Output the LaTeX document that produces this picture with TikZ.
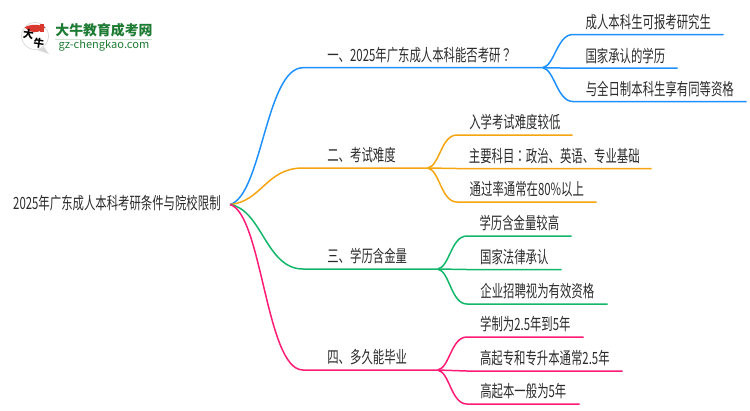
\documentclass[tikz,border=0pt]{standalone}
\usepackage{fontspec}
\usepackage{tikz}
\setmainfont{Noto Sans CJK SC}[FakeStretch=0.675]
\newfontfamily\punctfont{Noto Sans CJK TC}[FakeStretch=0.675]
\newfontfamily\logofont{Noto Sans CJK SC}
\definecolor{mapblue}{HTML}{1E90FF}
\definecolor{maporange}{HTML}{F5A50F}
\definecolor{mapgreen}{HTML}{12B76A}
\definecolor{mappink}{HTML}{FF1A75}
\definecolor{maptext}{HTML}{2B2B2B}
\definecolor{logogreen}{HTML}{1E7B34}
\definecolor{logored}{HTML}{D9382E}
\tikzset{
  mapline/.style={line width=.85pt},
  rootbox/.style={anchor=east, inner xsep=.18cm, inner ysep=0pt, text height=5.7pt, text depth=0pt, text=maptext, font=\fontsize{9.6pt}{10pt}\selectfont},
  itembox/.style={anchor=south west, inner xsep=0pt, inner ysep=.09cm, align=center, text=maptext, font=\fontsize{9.6pt}{10pt}\selectfont, minimum width=#1},
  topicbox/.style={itembox=#1, text width=#1, align=left}
}

\begin{document}
\begin{tikzpicture}[x=.02cm, y=-.02cm]
    \useasboundingbox (0,0) rectangle (750,410);

    % logo
    \fill[gray!30] (44,47) -- (49,54) -- (37,50) -- cycle;
    \draw[gray!30, fill=white] (35,36) circle (13.5);
    \fill[logored] (24.7,27.3) arc[start angle=140, end angle=40, radius=13.5] .. controls (40,24) and (30,24) .. cycle;
    \fill[logored] (39.8,24) rectangle (44.2,32);
    \node[inner sep=0pt, rotate=-8, font=\logofont\bfseries\fontsize{6pt}{7pt}\selectfont] (logoda) at (28.5,34) {大};
    \node[inner sep=0pt, rotate=-8, font=\logofont\bfseries\fontsize{6pt}{7pt}\selectfont] (logoniu) at (39,43) {牛};
    \node[inner sep=0pt, text=logogreen, font=\logofont\bfseries\fontsize{7.9pt}{9pt}\selectfont] (logoname) at (104,30) {大牛教育成考网};
    \node[inner sep=0pt, text=logogreen, font=\logofont\fontsize{6.3pt}{7pt}\selectfont] (logourl) at (104,45.5) {gz-chengkao.com};
    \draw[green!25!gray!30] (55,39.5) -- (152,39.5);

    \node[rootbox] (root) at (230,204.5) {2025年广东成人本科考研条件与院校限制};

    \node[topicbox=4.78cm] (first) at (303,67.7) {\hspace*{.48cm}一、2025年广东成人本科能否考研{\punctfont ？}};
    \node[itembox=3.00cm] (first1) at (573,34.5) {成人本科生可报考研究生};
    \node[itembox=2.08cm] (first2) at (573,68.2) {国家承认的学历};
    \node[itembox=3.46cm] (first3) at (573,101.5) {与全日制本科生享有同等资格};

    \node[topicbox=2.48cm] (second) at (303,168) {\hspace*{.48cm}二、考试难度};
    \node[itembox=2.30cm] (second1) at (457,135) {入学考试难度较低};
    \node[itembox=3.88cm] (second2) at (457,168.5) {主要科目{\punctfont ：}政治、英语、专业基础};
    \node[itembox=2.78cm] (second3) at (457,202) {通过率通常在80\%以上};

    \node[topicbox=2.68cm] (third) at (303,269) {\hspace*{.48cm}三、学历含金量};
    \node[itembox=2.08cm] (third1) at (467,236) {学历含金量较高};
    \node[itembox=1.88cm] (third2) at (467,269.5) {国家法律承认};
    \node[itembox=2.80cm] (third3) at (467,304) {企业招聘视为有效资格};

    \node[topicbox=2.68cm] (fourth) at (303,370) {\hspace*{.48cm}四、多久能毕业};
    \node[itembox=2.32cm] (fourth1) at (467,337) {学制为2.5年到5年};
    \node[itembox=3.10cm] (fourth2) at (467,371) {高起专和专升本通常2.5年};
    \node[itembox=2.24cm] (fourth3) at (467,404) {高起本一般为5年};

    % first branch
    \draw[mapline, mapblue] (root.east) .. controls +(32,-9) and +(-37,0) .. (first.south west) -- (first.south east);
    \draw[mapline, mapblue] (first.south east) .. controls +(12,-2) and +(-16,0) .. (first1.south west) -- (first1.south east);
    \draw[mapline, mapblue] (first.south east) -- (first2.south west) -- (first2.south east);
    \draw[mapline, mapblue] (first.south east) .. controls +(12,2) and +(-16,0) .. (first3.south west) -- (first3.south east);

    % second branch
    \draw[mapline, maporange] (root.east) .. controls +(32,-3) and +(-37,0) .. (second.south west) -- (second.south east);
    \draw[mapline, maporange] (second.south east) .. controls +(12,-2) and +(-16,0) .. (second1.south west) -- (second1.south east);
    \draw[mapline, maporange] (second.south east) -- (second2.south west) -- (second2.south east);
    \draw[mapline, maporange] (second.south east) .. controls +(12,2) and +(-16,0) .. (second3.south west) -- (second3.south east);

    % third branch
    \draw[mapline, mapgreen] (root.east) .. controls +(32,5) and +(-37,0) .. (third.south west) -- (third.south east);
    \draw[mapline, mapgreen] (third.south east) .. controls +(12,-2) and +(-16,0) .. (third1.south west) -- (third1.south east);
    \draw[mapline, mapgreen] (third.south east) -- (third2.south west) -- (third2.south east);
    \draw[mapline, mapgreen] (third.south east) .. controls +(12,2) and +(-16,0) .. (third3.south west) -- (third3.south east);

    % fourth branch
    \draw[mapline, mappink] (root.east) .. controls +(32,9) and +(-37,0) .. (fourth.south west) -- (fourth.south east);
    \draw[mapline, mappink] (fourth.south east) .. controls +(12,-2) and +(-16,0) .. (fourth1.south west) -- (fourth1.south east);
    \draw[mapline, mappink] (fourth.south east) -- (fourth2.south west) -- (fourth2.south east);
    \draw[mapline, mappink] (fourth.south east) .. controls +(12,2) and +(-16,0) .. (fourth3.south west) -- (fourth3.south east);

\end{tikzpicture}
\end{document}
